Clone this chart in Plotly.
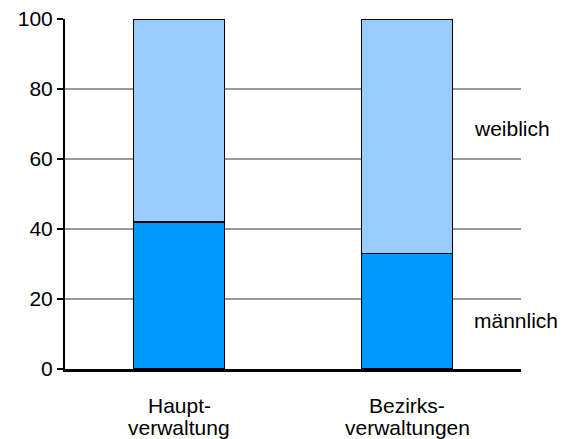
import plotly.graph_objects as go

categories = ["Hauptverwaltung", "Bezirksverwaltungen"]
label_line1 = ["Haupt-", "Bezirks-"]
label_line2 = ["verwaltung", "verwaltungen"]
maennlich = [42, 33]
weiblich = [58, 67]
y_ticks = [0, 20, 40, 60, 80, 100]

FONT = "Liberation Sans, Arial, sans-serif"

fig = go.Figure()
fig.add_trace(go.Bar(
    x=categories, y=maennlich, name="männlich",
    marker=dict(color="#0099FF", line=dict(color="black", width=1.5)),
    width=0.4,
))
fig.add_trace(go.Bar(
    x=categories, y=weiblich, name="weiblich",
    marker=dict(color="#99CCFF", line=dict(color="black", width=1.5)),
    width=0.4,
))

annotations = [
    dict(text="weiblich", xref="paper", yref="paper", x=0.893, y=0.687,
         xanchor="left", yanchor="middle", showarrow=False,
         font=dict(size=21, family=FONT, color="black")),
    dict(text="männlich", xref="paper", yref="paper", x=0.893, y=0.14,
         xanchor="left", yanchor="middle", showarrow=False,
         font=dict(size=21, family=FONT, color="black")),
]
for cat, l1, l2 in zip(categories, label_line1, label_line2):
    annotations.append(dict(text=l1, xref="x", yref="paper", x=cat, y=-0.104,
                            xanchor="center", yanchor="middle", showarrow=False,
                            font=dict(size=21, family=FONT, color="black")))
    annotations.append(dict(text=l2, xref="x", yref="paper", x=cat, y=-0.166,
                            xanchor="center", yanchor="middle", showarrow=False,
                            font=dict(size=21, family=FONT, color="black")))

# page body has an 8px default margin; compensate so the plot lands where the reference has it
fig.update_layout(
    barmode="stack",
    width=559, height=431,
    margin=dict(l=57, r=46, t=11, b=70, autoexpand=False),
    paper_bgcolor="white", plot_bgcolor="white",
    showlegend=False,
    font=dict(family=FONT, size=21, color="black"),
    xaxis=dict(
        type="category", range=[-0.5, 1.5],
        showline=True, linecolor="black", linewidth=3,
        ticks="", showgrid=False, automargin=False,
        showticklabels=False,
    ),
    yaxis=dict(
        range=[0, 100], tickvals=y_ticks, automargin=False,
        showline=True, linecolor="black", linewidth=2,
        ticks="outside", ticklen=6, tickcolor="black", tickwidth=1.5,
        showgrid=True, gridcolor="#999999", gridwidth=1.5,
        zeroline=False, ticklabeloverflow="allow",
        tickfont=dict(size=21),
    ),
    annotations=annotations,
)

fig.write_html("out.html")
